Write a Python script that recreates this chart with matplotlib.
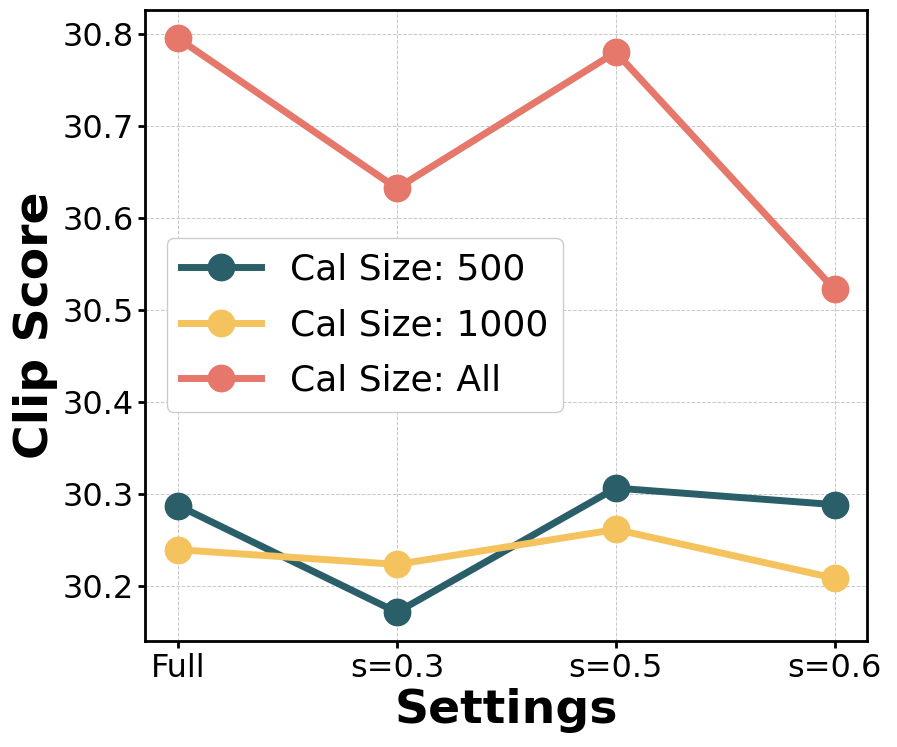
import matplotlib.pyplot as plt

settings = ["Full", "s=0.3", "s=0.5", "s=0.6"]
cal_500 = [30.287, 30.171, 30.306, 30.288]
cal_1000 = [30.239, 30.223, 30.261, 30.208]
cal_all = [30.795, 30.632, 30.780, 30.522]

series = [
    ("Cal Size: 500", cal_500, "#2a5f6a"),
    ("Cal Size: 1000", cal_1000, "#f4c35e"),
    ("Cal Size: All", cal_all, "#e6776b"),
]

fig, ax = plt.subplots(figsize=(8.97, 7.47), dpi=100)
x = range(len(settings))
for label, vals, color in series:
    ax.plot(x, vals, marker="o", color=color, linewidth=5, markersize=19, label=label)

ax.set_xticks(list(x))
ax.set_xticklabels(settings)
ax.tick_params(axis="both", labelsize=23, width=2, length=5)
ax.set_xlabel("Settings", fontsize=34, fontweight="bold", labelpad=3)
ax.set_ylabel("Clip Score", fontsize=34, fontweight="bold", labelpad=3)
ax.grid(True, linestyle="--", linewidth=0.7, color="#c8c8c8")
for s in ax.spines.values():
    s.set_linewidth(2)

ax.legend(fontsize=26, loc="center left", bbox_to_anchor=(0.0, 0.5), framealpha=1,
          handlelength=2.2, borderaxespad=0.6, labelspacing=0.6)

fig.subplots_adjust(left=0.162, right=0.967, top=0.987, bottom=0.142)
fig.savefig("out.png", dpi=100)
